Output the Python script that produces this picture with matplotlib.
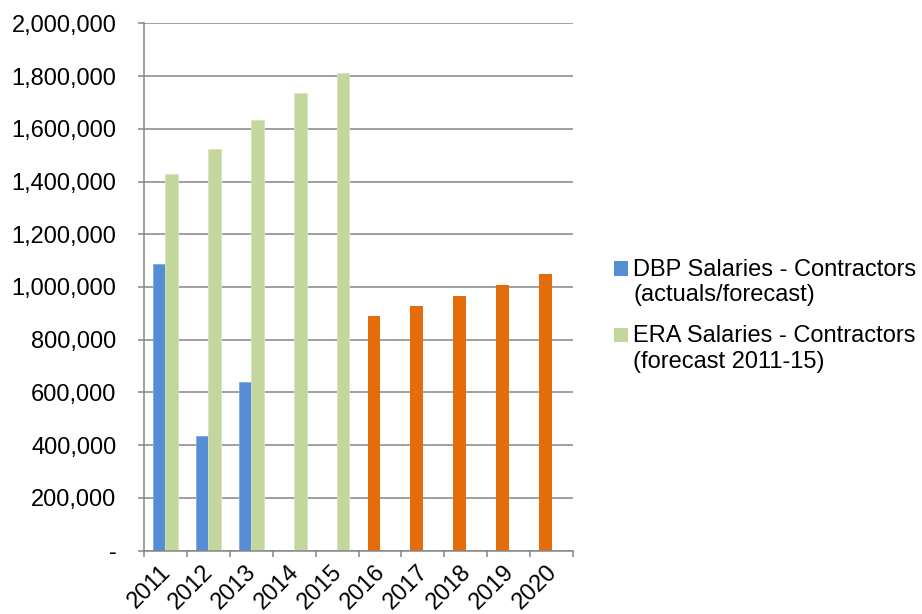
import numpy as np
import matplotlib
matplotlib.use("Agg")
import matplotlib.pyplot as plt
from matplotlib.patches import Rectangle
from matplotlib.legend_handler import HandlerBase
from matplotlib.ticker import FuncFormatter, MultipleLocator
from matplotlib.transforms import ScaledTranslation

plt.rcParams['font.family'] = ['Liberation Sans', 'DejaVu Sans']

years = ['2011', '2012', '2013', '2014', '2015', '2016', '2017', '2018', '2019', '2020']
dbp_actual = [1086000, 433000, 639000, np.nan, np.nan, np.nan, np.nan, np.nan, np.nan, np.nan]
dbp_forecast = [np.nan, np.nan, np.nan, np.nan, np.nan, 889000, 927000, 965000, 1007000, 1048000]
era_forecast = [1430000, 1522000, 1632000, 1736000, 1812000, np.nan, np.nan, np.nan, np.nan, np.nan]

label_dbp = 'DBP Salaries - Contractors\n(actuals/forecast)'
label_era = 'ERA Salaries - Contractors\n(forecast 2011-15)'

BLUE = '#558ED5'
GREEN = '#C3D69B'
ORANGE = '#E46C0A'
GRID = '#868686'
FS = 17


class FirstLineSquare(HandlerBase):
    """Square legend key aligned with the first line of a two-line label."""

    def __init__(self, shift, **kw):
        super().__init__(**kw)
        self.shift = shift

    def create_artists(self, legend, orig_handle, xdescent, ydescent,
                       width, height, fontsize, trans):
        rect = Rectangle((-xdescent, -ydescent + self.shift), width, height,
                         facecolor=orig_handle.get_facecolor(),
                         edgecolor='none', transform=trans)
        return [rect]


fig = plt.figure(figsize=(9.22, 6.14), dpi=100)
ax = fig.add_axes([144 / 922, 1 - 550.5 / 614, (573 - 144) / 922, (550.5 - 23.5) / 614])

x = np.arange(len(years))
w = 0.29
b1 = ax.bar(x - w / 2, dbp_actual, width=w, color=BLUE, edgecolor='#7FA9E0', linewidth=0.6,
            label=label_dbp, zorder=3)
ax.bar(x - w / 2, dbp_forecast, width=w, color=ORANGE, linewidth=0, zorder=3)
b2 = ax.bar(x + w / 2, era_forecast, width=w, color=GREEN, edgecolor='#D7E4BD', linewidth=0.6,
            label=label_era, zorder=3)

ax.set_xlim(-0.5, len(years) - 0.5)
ax.set_ylim(0, 2000000)
ax.yaxis.set_major_locator(MultipleLocator(200000))
ax.yaxis.set_major_formatter(FuncFormatter(lambda v, p: '-' if v == 0 else f'{v:,.0f}'))
ax.grid(axis='y', color=GRID, linewidth=1.1, zorder=0)
ax.set_axisbelow(True)

for s in ['top', 'right']:
    ax.spines[s].set_visible(False)
for s in ['left', 'bottom']:
    ax.spines[s].set_color(GRID)
    ax.spines[s].set_linewidth(1.1)
    ax.spines[s].set_zorder(4)

ax.tick_params(axis='y', direction='out', length=4.3, width=1.1, color=GRID,
               labelsize=FS, pad=15.5, labelcolor='black')

# category labels at centres, tick marks at category boundaries
ax.set_xticks(x)
ax.set_xticklabels(years, rotation=45, ha='right', rotation_mode='anchor', fontsize=FS)
ax.set_xticks(np.arange(-0.5, len(years)), minor=True)
ax.tick_params(axis='x', which='major', length=0, pad=8)
ax.tick_params(axis='x', which='minor', direction='out', length=4.3, width=1.1, color=GRID)
shift = ScaledTranslation(-0.06, 0.01, fig.dpi_scale_trans)
for lbl in ax.get_xticklabels():
    lbl.set_transform(lbl.get_transform() + shift)

fig.legend(handles=[b1.patches[0], b2.patches[0]], labels=[label_dbp, label_era],
           loc='upper left', bbox_to_anchor=(614 / 922, 1 - 259 / 614),
           frameon=False, fontsize=FS, borderpad=0, borderaxespad=0,
           handlelength=0.6, handleheight=0.6, handletextpad=0.22,
           labelspacing=0.8,
           handler_map={b1.patches[0]: FirstLineSquare(0.6 * FS),
                        b2.patches[0]: FirstLineSquare(0.6 * FS)})

fig.savefig('out.png', dpi=100)
